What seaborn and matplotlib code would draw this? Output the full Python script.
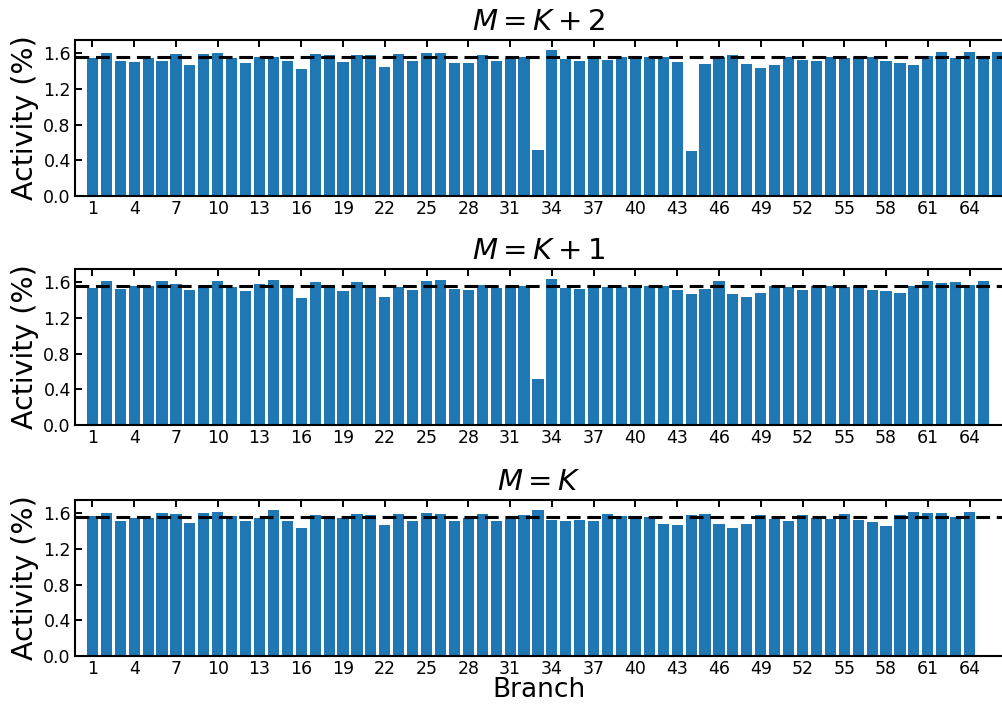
import numpy as np
import pandas as pd
import matplotlib
matplotlib.use("Agg")
import matplotlib.pyplot as plt
import seaborn as sns

# ---- data (activity %) ----
act_k2 = [1.55, 1.60, 1.51, 1.50, 1.55, 1.52, 1.59, 1.47, 1.59, 1.60,
          1.55, 1.49, 1.56, 1.56, 1.52, 1.42, 1.59, 1.58, 1.50, 1.58,
          1.58, 1.45, 1.59, 1.51, 1.60, 1.60, 1.49, 1.49, 1.58, 1.52,
          1.55, 1.56, 0.52, 1.64, 1.54, 1.52, 1.55, 1.53, 1.56, 1.55,
          1.56, 1.56, 1.50, 0.50, 1.48, 1.56, 1.58, 1.48, 1.44, 1.47,
          1.56, 1.53, 1.52, 1.56, 1.55, 1.56, 1.56, 1.52, 1.49, 1.47,
          1.57, 1.61, 1.55, 1.61, 1.56, 1.61]
act_k1 = [1.54, 1.61, 1.53, 1.56, 1.56, 1.61, 1.58, 1.51, 1.56, 1.62,
          1.55, 1.50, 1.58, 1.63, 1.54, 1.43, 1.60, 1.57, 1.50, 1.60,
          1.57, 1.44, 1.55, 1.51, 1.62, 1.63, 1.53, 1.51, 1.57, 1.54,
          1.55, 1.56, 0.52, 1.64, 1.54, 1.53, 1.55, 1.55, 1.55, 1.56,
          1.56, 1.56, 1.52, 1.47, 1.53, 1.61, 1.47, 1.44, 1.48, 1.56,
          1.55, 1.52, 1.56, 1.56, 1.55, 1.56, 1.52, 1.50, 1.48, 1.56,
          1.61, 1.59, 1.60, 1.57, 1.61]
act_k0 = [1.57, 1.60, 1.51, 1.55, 1.55, 1.60, 1.59, 1.49, 1.60, 1.61,
          1.57, 1.51, 1.55, 1.64, 1.52, 1.44, 1.58, 1.57, 1.55, 1.59,
          1.58, 1.47, 1.59, 1.51, 1.60, 1.59, 1.51, 1.55, 1.59, 1.52,
          1.54, 1.58, 1.64, 1.53, 1.52, 1.53, 1.51, 1.59, 1.57, 1.55,
          1.56, 1.48, 1.47, 1.58, 1.59, 1.48, 1.44, 1.48, 1.58, 1.54,
          1.52, 1.58, 1.55, 1.54, 1.59, 1.53, 1.50, 1.46, 1.58, 1.62,
          1.60, 1.60, 1.56, 1.62]
titles = [r"$M = K + 2$", r"$M = K + 1$", r"$M = K$"]
series = [act_k2, act_k1, act_k0]
xtick_vals = list(range(1, 65, 3))
ytick_vals = [0.0, 0.4, 0.8, 1.2, 1.6]
uniform_level = 100 / 64

sns.set_theme(style="ticks")
plt.rcParams["font.family"] = ["DejaVu Sans"]
plt.rcParams["mathtext.fontset"] = "dejavusans"
plt.rcParams["text.color"] = "black"
plt.rcParams["axes.labelcolor"] = "black"
plt.rcParams["xtick.color"] = "black"
plt.rcParams["ytick.color"] = "black"

W, H = 1003, 704
fig = plt.figure(figsize=(W / 100, H / 100), dpi=100)

# axes boxes in pixels: (top, bottom)
boxes = [(40, 196), (269, 425), (500, 656)]
left_px = 75

for i, (vals, title, (tp, bt)) in enumerate(zip(series, titles, boxes)):
    ax = fig.add_axes([left_px / W, 1 - bt / H, (W - left_px) / W, (bt - tp) / H])
    df = pd.DataFrame({"Branch": np.arange(1, len(vals) + 1), "Activity": vals})
    sns.barplot(data=df, x="Branch", y="Activity", native_scale=True,
                color="#1f77b4", saturation=1, width=0.8, linewidth=0,
                ax=ax)
    ax.axhline(uniform_level, color="black", linestyle=(0, (4.5, 2.2)),
               linewidth=2.2, zorder=5)
    ax.set_xlim(-0.25, 66.4)
    ax.set_ylim(0, 1.75)
    ax.set_xticks(xtick_vals)
    ax.set_xticklabels([str(v) for v in xtick_vals], fontsize=12.5)
    ax.set_yticks(ytick_vals)
    ax.set_yticklabels([f"{v:.1f}" for v in ytick_vals], fontsize=12.5)
    ax.tick_params(axis="both", direction="in", length=5, width=1.4,
                   top=True, bottom=True, left=True, right=False, pad=3,
                   colors="black")
    for s in ax.spines.values():
        s.set_linewidth(1.5)
        s.set_color("black")
    ax.spines["right"].set_visible(False)
    ax.set_title(title, fontsize=21, pad=7, color="black")
    ax.set_ylabel("Activity (%)", fontsize=20.5, labelpad=3)
    if i == 2:
        ax.set_xlabel("Branch", fontsize=19, labelpad=-1)
    else:
        ax.set_xlabel("")

fig.savefig("out.png", dpi=100)
